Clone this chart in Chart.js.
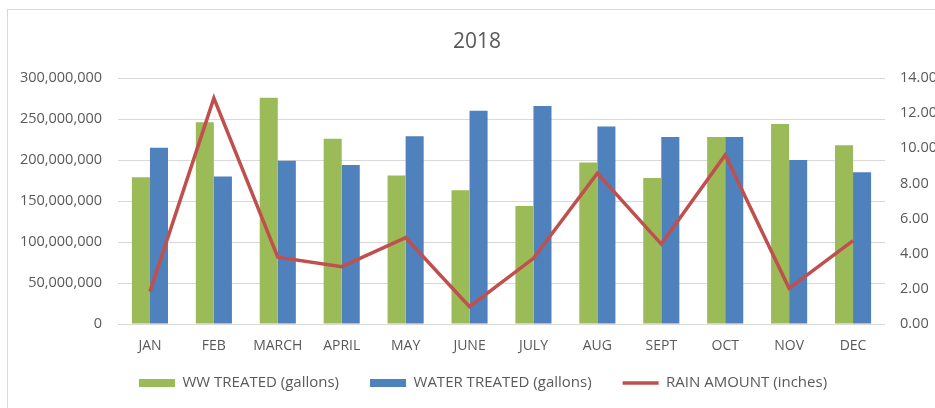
<!DOCTYPE html>
<html><head><meta charset="utf-8">
<script src="https://cdn.jsdelivr.net/npm/chart.js@4.4.0/dist/chart.umd.min.js"></script>
<style>
html,body{margin:0;padding:0;background:#fff;overflow:hidden;width:935px;height:408px;}
#frame{position:absolute;left:7px;top:9px;width:938px;height:404px;border:1px solid #d9d9d9;background:#fff;}
canvas{display:block;}
</style></head><body>
<div id="frame"><canvas id="c" width="938" height="402" style="width:938px;height:402px"></canvas></div>
<script>
const months = ['JAN','FEB','MARCH','APRIL','MAY','JUNE','JULY','AUG','SEPT','OCT','NOV','DEC'];
const wwTreated = [179000000,246000000,276000000,226000000,181000000,163000000,144000000,197000000,178000000,228000000,244000000,218000000];
const waterTreated = [215000000,180000000,199000000,194000000,229000000,260000000,266000000,241000000,228000000,228000000,200000000,185000000];
const rainAmount = [1.84,12.85,3.80,3.26,4.91,0.99,3.74,8.58,4.55,9.62,2.03,4.74];
const seriesNames = ['WW TREATED (gallons)','WATER TREATED (gallons)','RAIN AMOUNT (inches)'];
const leftAxis = {min:0, max:300000000, step:50000000};
const rightAxis = {min:0, max:14, step:2};

const txt = '#595959';
const fam = 'Open Sans';

const legendNudge = {
  id:'legendNudge',
  afterLayout(chart){
    const lg = chart.legend;
    if (!lg) return;
    lg.top -= 11.5; lg.bottom -= 11.5;
    lg.left += 6; lg.right += 6;
  }
};

new Chart(document.getElementById('c'), {
  type: 'bar',
  data: {
    labels: months,
    datasets: [
      {type:'bar', label:seriesNames[0], data:wwTreated, backgroundColor:'#9BBB59', yAxisID:'y', order:1, pointStyle:'rect', categoryPercentage:0.565, barPercentage:1},
      {type:'bar', label:seriesNames[1], data:waterTreated, backgroundColor:'#4F81BD', yAxisID:'y', order:1, pointStyle:'rect', categoryPercentage:0.565, barPercentage:1},
      {type:'line', label:seriesNames[2], data:rainAmount, borderColor:'#C0504D', backgroundColor:'#C0504D', borderWidth:3.5, pointRadius:0, pointHoverRadius:0, yAxisID:'y1', order:0, pointStyle:'line', tension:0, fill:false}
    ]
  },
  options: {
    responsive:false, animation:false, devicePixelRatio:1,
    layout:{padding:0},
    plugins:{
      title:{display:true, text:'2018', color:txt, font:{family:fam, size:21, weight:'normal'}, padding:{top:19.4, bottom:23.4}},
      legend:{position:'bottom', labels:{usePointStyle:true, pointStyleWidth:36, boxHeight:8, padding:31, color:txt, font:{family:fam, size:15}, sort:(a,b)=>a.datasetIndex-b.datasetIndex}},
      tooltip:{enabled:false}
    },
    scales:{
      x:{grid:{display:false, drawTicks:false}, border:{display:false}, ticks:{color:txt, font:{family:fam, size:14}, padding:14, maxRotation:0, autoSkip:false}, afterFit(s){s.height=32;}},
      y:{position:'left', min:leftAxis.min, max:leftAxis.max, ticks:{stepSize:leftAxis.step, color:txt, font:{family:fam, size:14.5}, padding:16, callback:v=>v.toLocaleString('en-US')}, grid:{color:'#d9d9d9', drawTicks:false}, border:{display:false}, afterFit(s){s.width=110;}},
      y1:{position:'right', min:rightAxis.min, max:rightAxis.max, ticks:{stepSize:rightAxis.step, color:txt, font:{family:fam, size:14.5}, padding:15, callback:v=>v.toFixed(2)}, grid:{display:false, drawTicks:false}, border:{display:false}, afterFit(s){s.width=61;}}
    }
  },
  plugins:[legendNudge]
});
</script>
</body></html>
